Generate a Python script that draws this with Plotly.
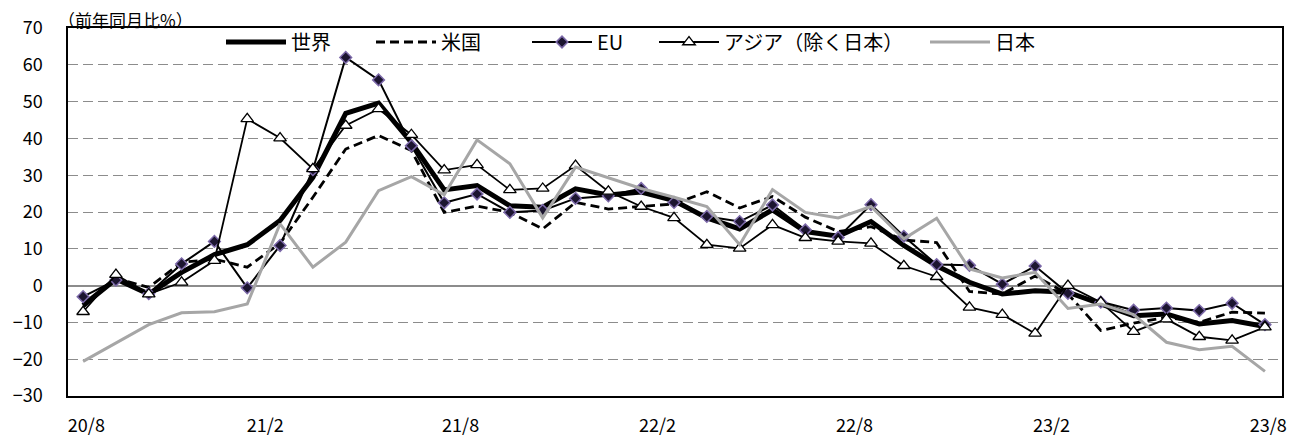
import plotly.graph_objects as go

months = list(range(37))  # 2020/8 .. 2023/8, monthly
tick_labels = ["20/8", "21/2", "21/8", "22/2", "22/8", "23/2", "23/8"]

world = [-5.4, 1.8, -2.3, 3.6, 8.4, 11.1, 17.7, 29.4, 46.8, 49.6, 38.9, 26.0, 27.2,
         21.7, 21.3, 26.3, 24.6, 25.4, 23.1, 18.4, 15.4, 20.6, 14.7, 13.4, 17.4, 10.9,
         5.4, 0.9, -2.3, -1.4, -1.8, -5.0, -8.2, -7.7, -10.4, -9.5, -11.1]
us = [-5.8, 2.0, -0.5, 6.3, 7.2, 5.0, 11.5, 24.0, 37.1, 40.8, 36.7, 19.9, 21.6,
      19.9, 15.4, 22.6, 20.8, 21.5, 22.2, 25.5, 21.1, 24.2, 18.6, 14.7, 16.0, 12.4,
      11.7, -1.6, -2.3, 2.6, -2.3, -12.2, -10.2, -8.6, -10.0, -7.2, -7.5]
eu = [-3.0, 1.5, -2.2, 5.9, 12.0, -0.6, 10.9, 31.5, 62.0, 55.9, 38.0, 22.5, 24.9,
      19.9, 20.4, 23.7, 24.4, 26.4, 22.6, 18.8, 17.4, 21.9, 15.1, 13.1, 22.0, 13.4,
      5.7, 5.5, 0.4, 5.3, -2.1, -4.5, -6.7, -6.1, -6.8, -4.8, -10.6]
asia = [-7.1, 3.0, -2.3, 0.9, 6.8, 45.3, 40.1, 31.7, 43.5, 48.0, 41.0, 31.4, 32.8,
        26.0, 26.4, 32.6, 25.6, 21.5, 18.4, 11.1, 10.1, 16.5, 13.0, 12.0, 11.5, 5.4,
        2.4, -5.9, -7.9, -13.0, 0.0, -4.5, -12.5, -9.1, -13.9, -14.9, -11.3]
japan = [-20.6, -15.6, -10.6, -7.4, -7.1, -5.0, 16.8, 5.0, 11.8, 25.8, 29.6, 24.7, 39.6,
         33.1, 18.4, 32.2, 29.3, 26.4, 24.0, 21.5, 11.1, 26.1, 19.9, 18.4, 21.5, 12.7,
         18.3, 4.5, 2.1, 3.6, -6.2, -5.0, -7.9, -15.4, -17.4, -16.5, -23.3]

series_names = ["世界", "米国", "EU", "アジア（除く日本）", "日本"]

FONT = "Noto Sans CJK JP"
PAGE_W, PAGE_H = 1303, 441
OFF = 8  # default body margin of the html page
W, H = PAGE_W - OFF, PAGE_H - OFF
# plot area in page pixels: left 68, right 1282, top 28, bottom 396
ML, MR, MT, MB = 68 - OFF, W - (1282 - OFF), 28 - OFF, H - (396 - OFF)
PW = W - ML - MR
PH = H - MT - MB

def px_x(p):  # page pixel -> paper fraction
    return (p - OFF - ML) / PW

def px_y(p):
    return (H - MB - (p - OFF)) / PH

fig = go.Figure()
fig.add_trace(go.Scatter(x=months, y=world, name=series_names[0], mode="lines",
                         line=dict(color="black", width=5), legend="legend"))
fig.add_trace(go.Scatter(x=months, y=us, name=series_names[1], mode="lines",
                         line=dict(color="black", width=2.8, dash="9px,5px"), legend="legend2"))
fig.add_trace(go.Scatter(x=months, y=eu, name=series_names[2], mode="lines+markers",
                         line=dict(color="black", width=2),
                         marker=dict(symbol="diamond", size=9, color="#1c1530",
                                     line=dict(color="#7b68a8", width=1.5)), legend="legend3"))
fig.add_trace(go.Scatter(x=months, y=asia, name=series_names[3], mode="lines+markers",
                         line=dict(color="black", width=1.8),
                         marker=dict(symbol="triangle-up", size=11, color="white",
                                     line=dict(color="black", width=1.3)), legend="legend4"))
fig.add_trace(go.Scatter(x=months, y=japan, name=series_names[4], mode="lines",
                         line=dict(color="#a6a6a6", width=3), legend="legend5"))

tick_pos = [0.1, 5.55, 11.5, 17.5, 23.5, 29.5, 36.1]
minor_ticks = [5.5, 11.5, 17.5, 23.5, 29.5, 35.5]
xr = [-0.46, 36.52]

legend_starts = [228, 378, 534, 661, 932]
legend_common = dict(orientation="h", yanchor="middle", xanchor="left",
                     xref="container", yref="container",
                     bgcolor="rgba(0,0,0,0)", itemwidth=60,
                     font=dict(family=FONT, size=20, color="black"))
layout_legends = {}
for i, xs in enumerate(legend_starts):
    key = "legend" if i == 0 else f"legend{i+1}"
    layout_legends[key] = dict(x=(xs - OFF - 7) / W, y=1 - (42 - OFF) / H, **legend_common)

fig.update_layout(
    width=W, height=H,
    margin=dict(l=ML, r=MR, t=MT, b=MB, autoexpand=False),
    paper_bgcolor="white", plot_bgcolor="white",
    font=dict(family=FONT, size=18, color="black"),
    showlegend=True,
    xaxis=dict(range=xr, tickvals=tick_pos, ticktext=tick_labels, automargin=False,
               ticks="outside", ticklen=13, tickcolor="rgba(0,0,0,0)",
               showgrid=False, zeroline=False,
               showline=True, mirror=True, linecolor="black", linewidth=1.5,
               tickfont=dict(family=FONT, size=18, color="black")),
    xaxis2=dict(range=xr, overlaying="x", anchor="free", position=px_y(285),
                side="bottom", tickvals=minor_ticks, ticks="inside", ticklen=8,
                automargin=False,
                tickcolor="#8c8c8c", tickwidth=1.5, showticklabels=False,
                showgrid=False, zeroline=False, showline=False),
    yaxis=dict(range=[-30, 70], dtick=10, tick0=0, showgrid=True, gridcolor="#8c8c8c",
               griddash="10px,5px", gridwidth=1.3, zeroline=True, zerolinecolor="#8c8c8c",
               zerolinewidth=1.8, showline=True, mirror=True, linecolor="black",
               linewidth=1.5, ticks="outside", ticklen=20, tickcolor="rgba(0,0,0,0)",
               automargin=False,
               tickfont=dict(family=FONT, size=18, color="black")),
    annotations=[dict(text="（前年同月比%）", xref="paper", yref="paper",
                      x=px_x(56), y=px_y(19), xanchor="left", yanchor="middle",
                      showarrow=False, font=dict(family=FONT, size=17, color="black"))],
    **layout_legends,
)

fig.write_html("out.html")
